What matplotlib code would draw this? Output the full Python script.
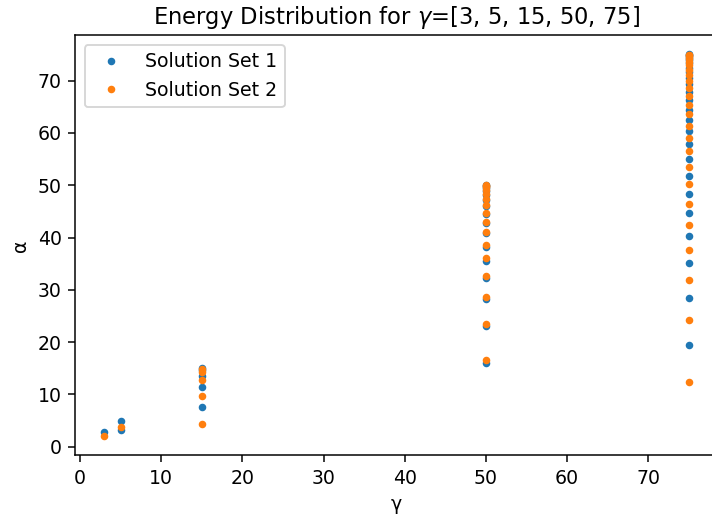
import numpy as np
import matplotlib
matplotlib.use('Agg')
from matplotlib import pyplot as plt

# gamma values and alpha solutions
gammas = [3, 5, 15, 50, 75]

set1_alpha = {
    3: [2.9],
    5: [4.9, 3.1],
    15: [15.0, 14.65, 13.53, 11.4, 7.6],
    50: [49.98, 49.85, 49.5, 48.95, 48.2, 47.2, 46.0, 44.5, 42.7, 40.8,
         38.2, 35.6, 32.2, 28.2, 23.0, 16.0],
    75: [75.0, 74.93, 74.73, 74.39, 73.91, 73.28, 72.51, 71.6, 70.52, 69.28,
         67.87, 66.27, 64.48, 62.51, 60.28, 57.82, 55.1, 51.8, 48.3, 44.7,
         40.2, 35.1, 28.4, 19.4],
}

set2_alpha = {
    3: [2.0],
    5: [3.8],
    15: [14.91, 14.19, 12.66, 9.6, 4.3],
    50: [50.0, 49.9, 49.59, 49.07, 48.34, 47.4, 46.2, 44.75, 43.0, 41.1,
         38.6, 36.0, 32.6, 28.7, 23.5, 16.6],
    75: [74.98, 74.85, 74.58, 74.17, 73.62, 72.92, 72.08, 71.09, 69.93, 68.61,
         67.11, 65.42, 63.53, 61.41, 59.08, 56.49, 53.5, 50.2, 46.5, 42.4,
         37.7, 31.9, 24.2, 12.4],
}


def flatten(sol):
    xs, ys = [], []
    for g in gammas:
        xs += [g] * len(sol[g])
        ys += sol[g]
    return np.array(xs), np.array(ys)


x1, y1 = flatten(set1_alpha)
x2, y2 = flatten(set2_alpha)

DPI = 136
fig = plt.figure(figsize=(712 / DPI, 520 / DPI), dpi=DPI)
ax = fig.add_axes([0.1055, 0.1244, 0.903, 0.8075])

ax.plot(x1, y1, '.', label='Solution Set 1')
ax.plot(x2, y2, '.', label='Solution Set 2')

ax.set_title(r'Energy Distribution for $\gamma$=[3, 5, 15, 50, 75]')
ax.set_xlabel('γ')
ax.set_ylabel('α')
ax.legend(loc='upper left')

fig.savefig('out.png', dpi=DPI)
